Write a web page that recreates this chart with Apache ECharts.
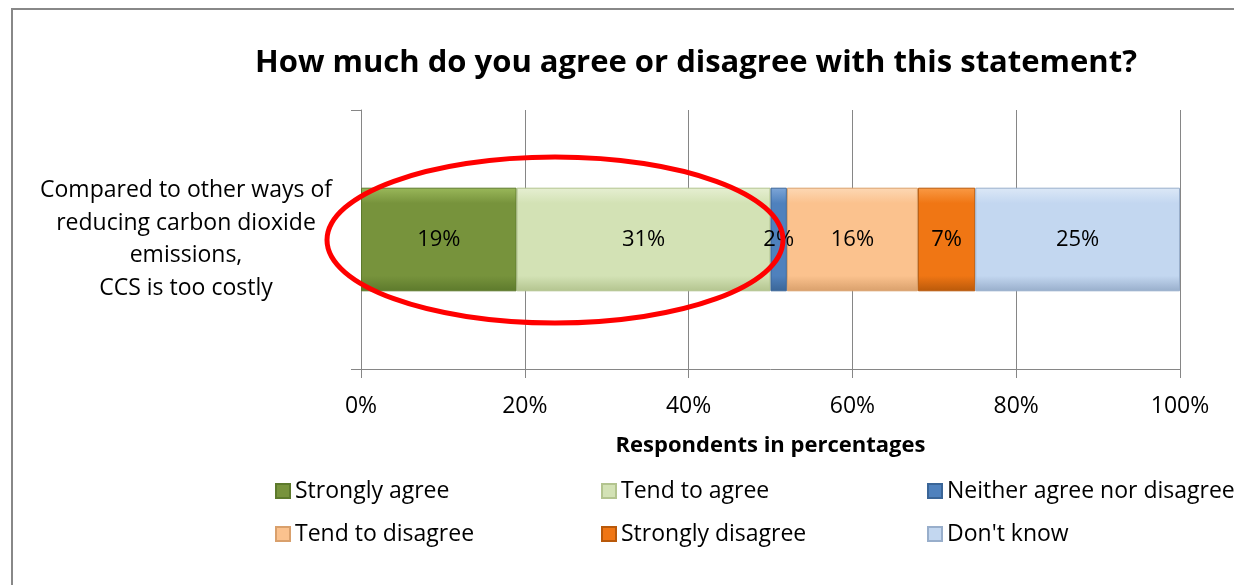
<!DOCTYPE html>
<html>
<head>
<meta charset="utf-8">
<script src="https://cdn.jsdelivr.net/npm/echarts@6/dist/echarts.min.js"></script>
<style>
  html, body { margin: 0; padding: 0; background: #fff; }
  #chart { width: 1234px; height: 585px; }
</style>
</head>
<body>
<div id="chart"></div>
<script>
const categories = ["Compared to other ways of\nreducing carbon dioxide\nemissions,\nCCS is too costly"];
const seriesNames = [
  "Strongly agree",
  "Tend to agree",
  "Neither agree nor disagree",
  "Tend to disagree",
  "Strongly disagree",
  "Don't know",
];
const seriesValues = [[19], [31], [2], [16], [7], [25]];
const tickValues = [0, 20, 40, 60, 80, 100];

// light / main / border colour per series
const palette = [
  ["#9ab85a", "#77933c", "#5d7a2c"],
  ["#e6efd2", "#d3e2b5", "#b3c48f"],
  ["#7ea6d8", "#4f81bd", "#3a6597"],
  ["#fdd8b4", "#fbc28e", "#d9a06c"],
  ["#f99a45", "#f07614", "#b9590a"],
  ["#dce8f7", "#c3d7f0", "#98aecb"],
];

const FONT = "Open Sans";

function fill(c) {
  return new echarts.graphic.LinearGradient(0, 0, 0, 1, [
    { offset: 0, color: c[0] },
    { offset: 0.15, color: c[1] },
    { offset: 0.85, color: c[1] },
    { offset: 1, color: c[2] },
  ]);
}

const chart = echarts.init(document.getElementById("chart"));

const series = seriesNames.map((name, i) => ({
  name: name,
  type: "bar",
  stack: "total",
  barWidth: "40%",
  data: seriesValues[i],
  itemStyle: {
    color: fill(palette[i]),
    borderColor: palette[i][2],
    borderWidth: 1,
  },
  label: {
    show: true,
    position: "inside",
    formatter: "{c}%",
    color: "#000",
    fontFamily: FONT,
    fontSize: 22,
    padding: [5, 0, 0, 0],
  },
}));

chart.setOption({
  animation: false,
  title: {
    text: "How much do you agree or disagree with this statement?",
    left: 696,
    top: 48,
    padding: 0,
    textAlign: "center",
    textStyle: { fontFamily: FONT, fontSize: 31, fontWeight: "bold", color: "#000" },
  },
  grid: { left: 361, right: 54, top: 110, bottom: 216, containLabel: false },
  xAxis: {
    type: "value",
    min: 0,
    max: 100,
    interval: 20,
    name: "Respondents in percentages",
    nameLocation: "middle",
    nameGap: 66,
    nameTextStyle: { fontFamily: FONT, fontSize: 22, fontWeight: "bold", color: "#000" },
    axisLine: { show: true, lineStyle: { color: "#868686" } },
    axisTick: { show: true, length: 9, lineStyle: { color: "#868686" } },
    splitLine: { show: true, lineStyle: { color: "#868686" } },
    axisLabel: {
      formatter: (v) => (tickValues.includes(v) ? v + "%" : ""),
      margin: 26,
      fontFamily: FONT,
      fontSize: 23,
      color: "#000",
    },
  },
  yAxis: {
    type: "category",
    data: categories,
    axisLine: { show: true, lineStyle: { color: "#868686" } },
    axisTick: { show: true, length: 10, lineStyle: { color: "#868686" } },
    axisLabel: {
      align: "center",
      margin: 175,
      lineHeight: 32.5,
      padding: [8, 0, 0, 0],
      fontFamily: FONT,
      fontSize: 23,
      color: "#000",
    },
  },
  legend: {
    left: 275,
    top: 475,
    padding: 0,
    width: 990,
    itemWidth: 14,
    itemHeight: 14,
    itemGap: 11,
    icon: "rect",
    textStyle: {
      width: 295,
      lineHeight: 32,
      fontFamily: FONT,
      fontSize: 23,
      color: "#000",
    },
    data: seriesNames,
  },
  graphic: [
    {
      type: "rect",
      shape: { x: 12, y: 9, width: 1300, height: 700 },
      style: { fill: "none", stroke: "#888", lineWidth: 2 },
      silent: true,
    },
    {
      type: "ellipse",
      shape: { cx: 555, cy: 240, rx: 228, ry: 83 },
      style: { fill: "none", stroke: "#ff0000", lineWidth: 5 },
      z: 100,
      silent: true,
    },
  ],
  series: series,
});
</script>
</body>
</html>
